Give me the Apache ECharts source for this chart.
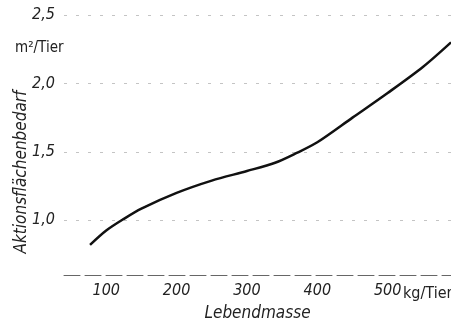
<!DOCTYPE html>
<html>
<head>
<meta charset="utf-8">
<script src="https://cdn.jsdelivr.net/npm/echarts@6/dist/echarts.min.js"></script>
<style>
    html, body { margin: 0; padding: 0; background: #fff; }
    #chart { width: 451px; height: 327px; }
</style>
</head>
<body>
<div id="chart"></div>
<script>
// Lebendmasse (kg/Tier) und Aktionsflächenbedarf (m2/Tier)
const mass = [77, 100, 125, 150, 200, 250, 300, 340, 370, 400, 450, 500, 550, 590];
const area = [0.82, 0.925, 1.01, 1.085, 1.2, 1.29, 1.36, 1.42, 1.49, 1.57, 1.75, 1.93, 2.12, 2.30];

const xTicks = [100, 200, 300, 400, 500];
const yTicks = [1.0, 1.5, 2.0, 2.5];

const FONT = '"Liberation Sans Narrow", "DejaVu Sans Condensed", sans-serif';
const INK = '#222';

const chart = echarts.init(document.getElementById('chart'), null, { renderer: 'canvas' });

const option = {
    animation: false,
    backgroundColor: '#fff',
    grid: { left: 64, right: 0, top: 15, bottom: 48 },
    xAxis: {
        type: 'value',
        min: 40,
        max: 590,
        name: 'Lebendmasse',
        nameLocation: 'middle',
        nameGap: 30,
        nameTextStyle: { fontFamily: FONT, fontStyle: 'italic', fontSize: 17, color: INK },
        axisLine: { show: true, lineStyle: { color: '#666', width: 1, type: [16, 5] } },
        axisTick: { show: false },
        splitLine: { show: false },
        axisLabel: {
            customValues: xTicks,
            margin: 8,
            fontFamily: FONT,
            fontStyle: 'italic',
            fontSize: 16,
            color: INK
        }
    },
    yAxis: {
        type: 'value',
        min: 0.6,
        max: 2.5,
        axisLine: { show: false },
        axisTick: { show: false, customValues: yTicks },
        splitLine: { show: true, lineStyle: { color: '#c4c4c4', width: 1, type: [3, 9] } },
        axisLabel: {
            customValues: yTicks,
            margin: 9,
            fontFamily: FONT,
            fontStyle: 'italic',
            fontSize: 16,
            color: INK,
            formatter: v => v.toFixed(1).replace('.', ',')
        }
    },
    graphic: [
        {
            type: 'text',
            left: 15,
            top: 41,
            style: { text: 'm²/Tier', font: '15px ' + FONT, fill: INK }
        },
        {
            type: 'text',
            left: 403,
            top: 286,
            style: { text: 'kg/Tier', font: '16px ' + FONT, fill: INK }
        },
        {
            type: 'text',
            x: 22,
            y: 172,
            rotation: Math.PI / 2,
            style: {
                text: 'Aktionsflächenbedarf',
                font: 'italic 17px ' + FONT,
                fill: INK,
                align: 'center',
                verticalAlign: 'middle'
            }
        }
    ],
    series: [
        {
            type: 'line',
            data: mass.map((m, i) => [m, area[i]]),
            smooth: 0.3,
            showSymbol: false,
            clip: true,
            lineStyle: { color: '#111', width: 2.5 }
        }
    ]
};

chart.setOption(option);
</script>
</body>
</html>
